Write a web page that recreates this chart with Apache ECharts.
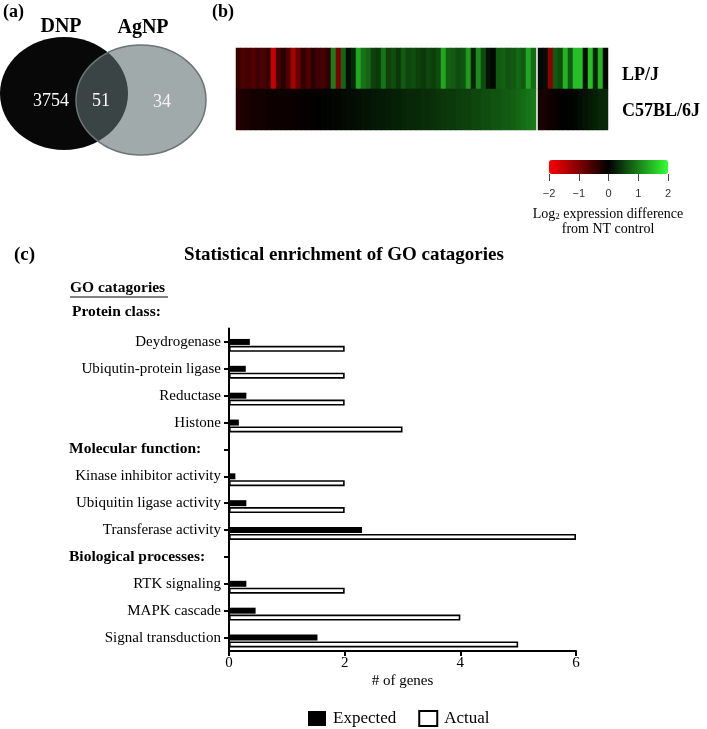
<!DOCTYPE html>
<html><head><meta charset="utf-8">
<script src="https://cdn.jsdelivr.net/npm/echarts@6/dist/echarts.min.js"></script>
<style>html,body{margin:0;padding:0;background:#fff}#c{width:707px;height:729px}</style>
</head><body><div id="c"></div>
<script>
// ---- Panel (c) data ----
const categories = ['Deydrogenase','Ubiqutin-protein ligase','Reductase','Histone','Molecular function:',
  'Kinase inhibitor activity','Ubiquitin ligase activity','Transferase activity','Biological processes:',
  'RTK signaling','MAPK cascade','Signal transduction'];
const headerCats = ['Molecular function:','Biological processes:'];
const expected = [0.36,0.29,0.30,0.17,null,0.11,0.30,2.30,null,0.30,0.46,1.53];
const actual   = [2,2,2,3,null,2,2,6,null,2,4,5];
const spacer   = [null,null,null,null,null,null,null,null,null,null,null,null];
const seriesNames = ['Expected','Actual'];

// ---- Panel (a) data ----
const vennSets = ['DNP','AgNP'];
const vennCounts = [3754, 51, 34];

// ---- Panel (b) data ----
const heatRows = ['LP/J','C57BL/6J'];
const lpjLeft = [-0.45,-0.6,-0.5,-0.65,-0.5,-0.6,-0.4,-1.6,-0.5,-0.35,-0.6,-1.3,-0.8,
  -0.4,-0.6,-0.35,-0.5,-0.55,-0.4,1.0,-1.0,0.8,0.1,0.3,1.3,0.9,0.8,0.5,0.45,0.9,
  0.5,0.6,0.45,0.7,0.55,0.6,0.5,0.45,0.55,0.5,0.6,1.3,0.75,0.7,0.6,0.65,1.2,0.25,1.1,0.6,
  0.15,0.05,0.7,0.75,0.65,0.7,0.8,0.7,1.3,0.85];
const c57Left = [-0.3,-0.22,-0.2,-0.16,-0.15,-0.15,-0.12,-0.1,-0.1,-0.1,-0.1,-0.08,-0.06,-0.05,-0.05,-0.03,
  0,0.02,0.03,0.05,0.05,0.08,0.1,0.1,0.12,0.15,
  0.15,0.18,0.2,0.2,0.22,0.25,0.25,0.28,0.3,0.3,0.32,0.35,0.35,0.38,0.4,
  0.42,0.45,0.45,0.48,0.5,0.5,0.55,0.55,0.6,0.6,0.65,0.65,0.7,0.72,0.75,0.8,0.85,0.9,0.95];
const lpjRight = [0.05,0.1,-1.1,0.7,0.6,1.4,0.7,1.5,1.5,0.1,1.5,0.3,1.4,0.05];
const c57Right = [-0.2,-0.18,-0.12,-0.08,-0.04,0,0.02,0.05,0.1,0.15,0.2,0.25,0.3,0.32];
const scaleMin = -2, scaleMax = 2;

const SERIF = "'Liberation Serif','Times New Roman',serif";

function cells(top, bottom) {
  const out = [];
  top.forEach((v, i) => out.push([i, 0, v]));
  bottom.forEach((v, i) => out.push([i, 1, v]));
  return out;
}

const chart = echarts.init(document.getElementById('c'), null, {renderer: 'canvas'});
chart.setOption({
  animation: false,
  backgroundColor: '#fff',
  textStyle: {fontFamily: SERIF, color: '#000'},
  grid: [
    {left: 229, right: 131, top: 328.5, bottom: 78},
    {left: 236, top: 48, width: 300, height: 82},
    {left: 538, top: 48, width: 70, height: 82},
    {left: 549, top: 160, width: 119, height: 14}
  ],
  xAxis: [
    {type: 'value', gridIndex: 0, min: 0, max: 6, interval: 2,
     name: '# of genes', nameLocation: 'middle', nameGap: 23,
     nameTextStyle: {fontSize: 15, color: '#000', fontFamily: SERIF},
     axisLine: {show: true, lineStyle: {color: '#000', width: 2}},
     axisTick: {show: true, length: 5, lineStyle: {color: '#000', width: 2}},
     axisLabel: {fontSize: 15, color: '#000', margin: 5, fontFamily: SERIF},
     splitLine: {show: false}},
    {type: 'category', gridIndex: 1, data: lpjLeft.map((v, i) => i), show: false},
    {type: 'category', gridIndex: 2, data: lpjRight.map((v, i) => i), show: false},
    {type: 'value', gridIndex: 3, min: scaleMin, max: scaleMax, interval: 1, position: 'bottom',
     axisLine: {show: false}, splitLine: {show: false},
     axisTick: {show: true, length: 7, lineStyle: {color: '#444', width: 1}},
     axisLabel: {fontSize: 11, color: '#333', margin: 14, fontFamily: "'Liberation Sans',Arial,sans-serif",
       formatter: v => (v < 0 ? '\u2212' + Math.abs(v) : String(v))}}
  ],
  yAxis: [
    {type: 'category', gridIndex: 0, data: categories, inverse: true,
     axisLine: {show: true, lineStyle: {color: '#000', width: 2}},
     axisTick: {show: true, alignWithLabel: true, interval: 0, length: 5, lineStyle: {color: '#000', width: 2}},
     axisLabel: {interval: 0, margin: 8, color: '#000',
       formatter: v => headerCats.indexOf(v) >= 0 ? '{h|' + v + '}' : '{n|' + v + '}',
       rich: {
         n: {width: 152, align: 'right', fontSize: 15, fontFamily: SERIF, color: '#000'},
         h: {width: 152, align: 'left', fontSize: 15.5, fontWeight: 'bold', fontFamily: SERIF, color: '#000'}
       }},
     splitLine: {show: false}},
    {type: 'category', gridIndex: 1, data: heatRows, inverse: true, show: false},
    {type: 'category', gridIndex: 2, data: heatRows, inverse: true, position: 'right',
     axisLine: {show: false}, axisTick: {show: false},
     axisLabel: {margin: 14, color: '#000',
       formatter: v => v === heatRows[0] ? '{t|' + v + '}' : '{b|' + v + '}',
       rich: {
         t: {fontSize: 18, fontWeight: 'bold', fontFamily: SERIF, color: '#000', padding: [14, 0, 0, 0]},
         b: {fontSize: 18, fontWeight: 'bold', fontFamily: SERIF, color: '#000', padding: [3, 0, 0, 0]}
       }}},
    {type: 'value', gridIndex: 3, show: false, min: 0, max: 1}
  ],
  visualMap: {
    type: 'continuous', min: scaleMin, max: scaleMax, seriesIndex: [3, 4],
    orient: 'horizontal', left: 549, top: 160, itemWidth: 14, itemHeight: 119,
    padding: 0, calculable: false, text: null, showLabel: false, hoverLink: false,
    inRange: {color: ['#ff0000', '#000000', '#33ff33']}
  },
  legend: {
    left: 308, top: 710, padding: 0, itemWidth: 18, itemHeight: 15, itemGap: 22,
    icon: 'rect', selectedMode: false,
    textStyle: {fontSize: 17, fontFamily: SERIF, color: '#000', padding: [0, 0, 0, 2]},
    data: [
      {name: seriesNames[0], itemStyle: {color: '#000'}},
      {name: seriesNames[1], itemStyle: {color: '#fff', borderColor: '#000', borderWidth: 2}}
    ]
  },
  series: [
    {type: 'bar', name: 'spacer', xAxisIndex: 0, yAxisIndex: 0, data: spacer,
     barWidth: 6, barGap: '15%', silent: true, itemStyle: {color: 'rgba(0,0,0,0)'}},
    {type: 'bar', name: seriesNames[0], xAxisIndex: 0, yAxisIndex: 0, data: expected,
     barWidth: 6, barGap: '15%', itemStyle: {color: '#000'}},
    {type: 'bar', name: seriesNames[1], xAxisIndex: 0, yAxisIndex: 0, data: actual,
     barWidth: 6, barGap: '15%', itemStyle: {color: '#fff', borderColor: '#000', borderWidth: 1.6}},
    {type: 'heatmap', xAxisIndex: 1, yAxisIndex: 1, data: cells(lpjLeft, c57Left),
     itemStyle: {borderWidth: 0}, emphasis: {disabled: true}, silent: true},
    {type: 'heatmap', xAxisIndex: 2, yAxisIndex: 2, data: cells(lpjRight, c57Right),
     itemStyle: {borderWidth: 0}, emphasis: {disabled: true}, silent: true}
  ],
  graphic: [
    // Venn diagram
    {type: 'ellipse', shape: {cx: 64, cy: 93.5, rx: 64, ry: 56.5}, style: {fill: '#080808'}, z: 1},
    {type: 'ellipse', shape: {cx: 141, cy: 100, rx: 65, ry: 55},
     style: {fill: 'rgba(94,110,110,0.59)', stroke: '#6c7575', lineWidth: 1.5}, z: 2},
    {type: 'text', x: 3, y: 12, z: 5, style: {text: '(a)', font: 'bold 18px ' + SERIF, fill: '#000', verticalAlign: 'middle'}},
    {type: 'text', x: 61, y: 27, z: 5, style: {text: vennSets[0], font: 'bold 20px ' + SERIF, fill: '#000', align: 'center', verticalAlign: 'middle'}},
    {type: 'text', x: 143, y: 28, z: 5, style: {text: vennSets[1], font: 'bold 20px ' + SERIF, fill: '#000', align: 'center', verticalAlign: 'middle'}},
    {type: 'text', x: 51, y: 101, z: 5, style: {text: String(vennCounts[0]), font: '18px ' + SERIF, fill: '#fff', align: 'center', verticalAlign: 'middle'}},
    {type: 'text', x: 101, y: 101, z: 5, style: {text: String(vennCounts[1]), font: '18px ' + SERIF, fill: '#fff', align: 'center', verticalAlign: 'middle'}},
    {type: 'text', x: 162, y: 102, z: 5, style: {text: String(vennCounts[2]), font: '18px ' + SERIF, fill: '#f4f4f4', align: 'center', verticalAlign: 'middle'}},
    // Panel b labels
    {type: 'text', x: 212, y: 12, z: 5, style: {text: '(b)', font: 'bold 18px ' + SERIF, fill: '#000', verticalAlign: 'middle'}},
    {type: 'text', x: 608, y: 214, z: 5, style: {
      text: '{a|Log}{s|2}{a| expression difference}', align: 'center', verticalAlign: 'middle',
      rich: {a: {fontSize: 14, fontFamily: SERIF, fill: '#000', verticalAlign: 'bottom'},
             s: {fontSize: 9, fontFamily: SERIF, fill: '#000', verticalAlign: 'bottom'}}}},
    {type: 'text', x: 608, y: 229, z: 5, style: {text: 'from NT control', font: '14px ' + SERIF, fill: '#000', align: 'center', verticalAlign: 'middle'}},
    // Panel c headings
    {type: 'text', x: 14, y: 255, z: 5, style: {text: '(c)', font: 'bold 19px ' + SERIF, fill: '#000', verticalAlign: 'middle'}},
    {type: 'text', x: 344, y: 255, z: 5, style: {text: 'Statistical enrichment of GO catagories', font: 'bold 19px ' + SERIF, fill: '#000', align: 'center', verticalAlign: 'middle'}},
    {type: 'text', x: 70, y: 288, z: 5, style: {text: 'GO catagories', font: 'bold 15.5px ' + SERIF, fill: '#000', verticalAlign: 'middle'}},
    {type: 'line', shape: {x1: 70, y1: 297, x2: 168, y2: 297}, style: {stroke: '#000', lineWidth: 1}, z: 5},
    {type: 'text', x: 72, y: 312, z: 5, style: {text: 'Protein class:', font: 'bold 15.5px ' + SERIF, fill: '#000', verticalAlign: 'middle'}}
  ]
});
</script>
</body></html>
